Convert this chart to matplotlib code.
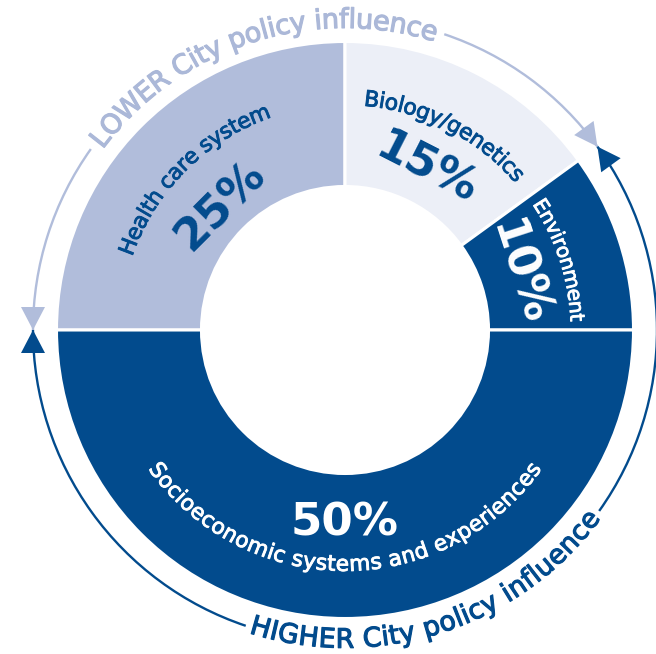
import numpy as np
import matplotlib
matplotlib.use("Agg")
import matplotlib.pyplot as plt
import matplotlib.patheffects as pe
from matplotlib.patches import Arc, Polygon
from matplotlib.font_manager import FontProperties, findfont, get_font

# ---------------- data ----------------
categories = ["Health care system", "Biology/genetics", "Environment",
              "Socioeconomic systems and experiences"]
shares = [25, 15, 10, 50]
pct_labels = [f"{v}%" for v in shares]
influence_labels = ["LOWER City policy influence", "HIGHER City policy influence"]
lower_group = [0, 1]      # categories with lower city policy influence
higher_group = [2, 3]     # categories with higher city policy influence

# ---------------- style ----------------
DARK = "#024B8D"
LIGHT = "#B1BDDB"
PALE = "#ECEFF7"
LIGHT_TXT = "#ABB8D8"
seg_colors = [LIGHT, PALE, DARK, DARK]
txt_colors = [DARK, DARK, "white", "white"]
FAMILY = "DejaVu Sans"
PX = 100 / 72.0

W, H = 656, 654
fig = plt.figure(figsize=(W / 100, H / 100), dpi=100)
ax = fig.add_axes([0, 0, 1, 1])

cx, cy = 345, 324
R_out, R_in = 288.5, 143.5
START = 180.0

ax.pie(shares, radius=R_out, center=(cx, cy), startangle=START, counterclock=False,
       colors=seg_colors,
       wedgeprops=dict(width=R_out - R_in, edgecolor="white", linewidth=2.2))
ax.set_xlim(0, W)
ax.set_ylim(0, H)
ax.set_aspect("equal")
ax.axis("off")

total = float(sum(shares))
cum = np.concatenate([[0], np.cumsum(shares)])
mid_angles = [START - 360 * (cum[i] + shares[i] / 2) / total for i in range(len(shares))]
split_angle = START - 360 * cum[len(lower_group)] / total


def advances(s, fp):
    font = get_font(findfont(fp))
    font.set_size(fp.get_size_in_points(), 72)
    return np.array([font.load_char(ord(c)).linearHoriAdvance / 65536.0 for c in s]) * PX


def curved_text(s, r_mid, theta_c, span, color, weight="normal", outward=True, stroke=0.8):
    fp0 = FontProperties(family=FAMILY, weight=weight, size=10)
    L0 = advances(s, fp0).sum()
    size = 10 * np.deg2rad(span) * r_mid / L0
    fp = FontProperties(family=FAMILY, weight=weight, size=size)
    adv = advances(s, fp)
    L = adv.sum()
    pos = np.cumsum(adv) - adv / 2
    half_cap = 0.365 * size * PX
    effects = [pe.withStroke(linewidth=stroke, foreground=color)]
    for c, p in zip(s, pos):
        if c == " ":
            continue
        if outward:
            phi = np.deg2rad(theta_c) + (L / 2 - p) / r_mid
            rb = r_mid - half_cap
            rot = np.rad2deg(phi) - 90
        else:
            phi = np.deg2rad(theta_c) - (L / 2 - p) / r_mid
            rb = r_mid + half_cap
            rot = np.rad2deg(phi) + 90
        ax.text(cx + rb * np.cos(phi), cy + rb * np.sin(phi), c, fontproperties=fp,
                color=color, rotation=rot, rotation_mode="anchor",
                ha="center", va="baseline", zorder=4, path_effects=effects)


# category labels along the ring
label_spans = [52, 44.5, 31.7, 109.6]
for i, cat in enumerate(categories):
    curved_text(cat, 233, mid_angles[i], label_spans[i], txt_colors[i],
                outward=(mid_angles[i] > 0), stroke=0.65)

# percentage labels
pct_r = [181, 185, 187, 189]
for i, lab in enumerate(pct_labels):
    a = np.deg2rad(mid_angles[i])
    rot = mid_angles[i] - 90 if mid_angles[i] > 0 else mid_angles[i] + 90
    ax.text(cx + pct_r[i] * np.cos(a), cy + pct_r[i] * np.sin(a), lab,
            family=FAMILY, weight="bold", size=32.5, color=txt_colors[i],
            rotation=rot, rotation_mode="anchor", ha="center", va="center_baseline",
            zorder=4)

# outer influence arcs
R_arr = 312
lower_c = (START + split_angle) / 2
higher_c = (split_angle + (START - 360)) / 2
span_txt = 70.5
gap = 1.3
curved_text(influence_labels[0], R_arr, lower_c, span_txt, LIGHT_TXT, outward=True, stroke=0.85)
curved_text(influence_labels[1], R_arr - 4, higher_c, span_txt * 312 / 308, DARK,
            outward=False, stroke=0.85)

lw = 1.7
ax.add_patch(Arc((cx, cy), 2 * R_arr, 2 * R_arr, theta1=split_angle,
                 theta2=lower_c - span_txt / 2 - gap, color=LIGHT, lw=lw))
ax.add_patch(Arc((cx, cy), 2 * R_arr, 2 * R_arr, theta1=lower_c + span_txt / 2 + gap,
                 theta2=START, color=LIGHT, lw=lw))
ax.add_patch(Arc((cx, cy), 2 * R_arr, 2 * R_arr, theta1=START - 360,
                 theta2=higher_c - span_txt / 2 - gap, color=DARK, lw=lw))
ax.add_patch(Arc((cx, cy), 2 * R_arr, 2 * R_arr, theta1=higher_c + span_txt / 2 + gap,
                 theta2=split_angle, color=DARK, lw=lw))


def arrow_head(theta, ccw, color, L=23, Wd=24, r=R_arr):
    t = np.deg2rad(theta)
    tip = np.array([cx + r * np.cos(t), cy + r * np.sin(t)])
    d = np.array([-np.sin(t), np.cos(t)]) * (1 if ccw else -1)
    n = np.array([np.cos(t), np.sin(t)])
    base = tip - d * L
    ax.add_patch(Polygon([tip, base + n * Wd / 2, base - n * Wd / 2], closed=True,
                         fc=color, ec="none", zorder=3))


arrow_head(START, True, LIGHT)
arrow_head(split_angle, False, LIGHT)
arrow_head(START, False, DARK)
arrow_head(split_angle, True, DARK)

fig.savefig("out.png", dpi=100)
